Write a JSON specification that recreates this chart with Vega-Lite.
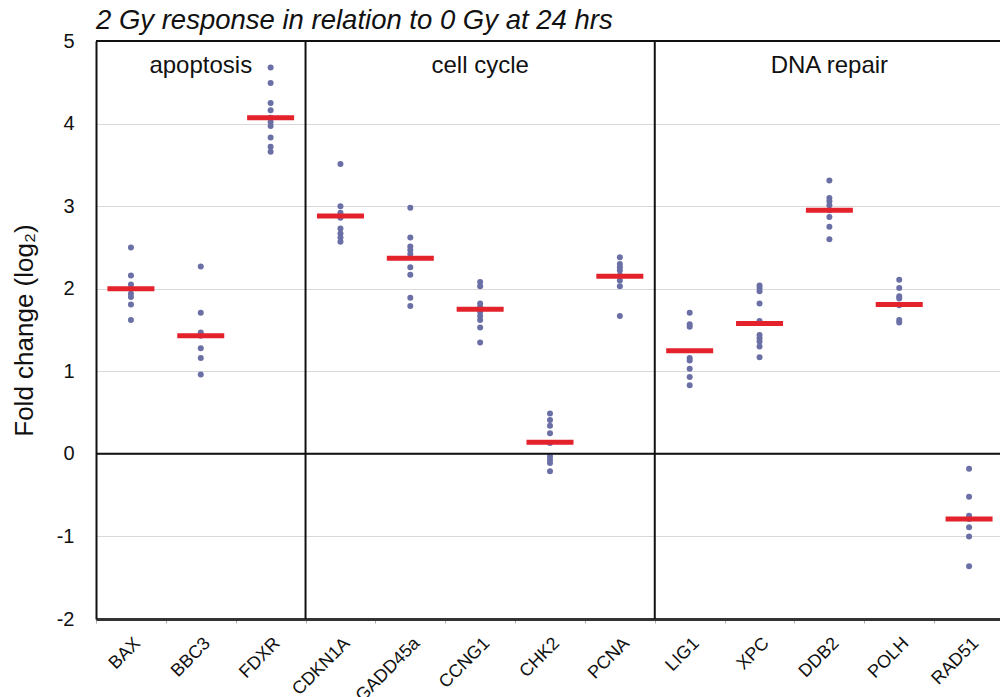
{
  "$schema": "https://vega.github.io/schema/vega-lite/v6.json",
  "autosize": "none",
  "width": 904,
  "height": 578,
  "padding": {"left": 96, "top": 41, "right": 0, "bottom": 78},
  "background": "white",
  "config": {
    "font": "Liberation Sans",
    "view": {"stroke": null}
  },
  "title": {
    "text": "2 Gy response in relation to 0 Gy at 24 hrs",
    "anchor": "start",
    "frame": "group",
    "fontSize": 27.5,
    "fontStyle": "italic",
    "fontWeight": "normal",
    "color": "#111",
    "baseline": "alphabetic",
    "offset": -25
  },
  "datasets": {
    "samples": [
      {"gene": "BAX", "fc": 2.50}, {"gene": "BAX", "fc": 2.16}, {"gene": "BAX", "fc": 2.05}, {"gene": "BAX", "fc": 2.00},
      {"gene": "BAX", "fc": 1.94}, {"gene": "BAX", "fc": 1.90}, {"gene": "BAX", "fc": 1.81}, {"gene": "BAX", "fc": 1.62},
      {"gene": "BBC3", "fc": 2.27}, {"gene": "BBC3", "fc": 1.71}, {"gene": "BBC3", "fc": 1.47}, {"gene": "BBC3", "fc": 1.43},
      {"gene": "BBC3", "fc": 1.28}, {"gene": "BBC3", "fc": 1.16}, {"gene": "BBC3", "fc": 0.96},
      {"gene": "FDXR", "fc": 4.68}, {"gene": "FDXR", "fc": 4.49}, {"gene": "FDXR", "fc": 4.25}, {"gene": "FDXR", "fc": 4.16},
      {"gene": "FDXR", "fc": 4.07}, {"gene": "FDXR", "fc": 4.02}, {"gene": "FDXR", "fc": 3.97}, {"gene": "FDXR", "fc": 3.83},
      {"gene": "FDXR", "fc": 3.72}, {"gene": "FDXR", "fc": 3.66},
      {"gene": "CDKN1A", "fc": 3.51}, {"gene": "CDKN1A", "fc": 3.00}, {"gene": "CDKN1A", "fc": 2.92}, {"gene": "CDKN1A", "fc": 2.86},
      {"gene": "CDKN1A", "fc": 2.73}, {"gene": "CDKN1A", "fc": 2.67}, {"gene": "CDKN1A", "fc": 2.62}, {"gene": "CDKN1A", "fc": 2.57},
      {"gene": "GADD45a", "fc": 2.98}, {"gene": "GADD45a", "fc": 2.62}, {"gene": "GADD45a", "fc": 2.51}, {"gene": "GADD45a", "fc": 2.47},
      {"gene": "GADD45a", "fc": 2.42}, {"gene": "GADD45a", "fc": 2.26}, {"gene": "GADD45a", "fc": 2.17}, {"gene": "GADD45a", "fc": 1.89},
      {"gene": "GADD45a", "fc": 1.79},
      {"gene": "CCNG1", "fc": 2.08}, {"gene": "CCNG1", "fc": 2.03}, {"gene": "CCNG1", "fc": 1.82}, {"gene": "CCNG1", "fc": 1.78},
      {"gene": "CCNG1", "fc": 1.72}, {"gene": "CCNG1", "fc": 1.67}, {"gene": "CCNG1", "fc": 1.62}, {"gene": "CCNG1", "fc": 1.53},
      {"gene": "CCNG1", "fc": 1.35},
      {"gene": "CHK2", "fc": 0.49}, {"gene": "CHK2", "fc": 0.41}, {"gene": "CHK2", "fc": 0.34}, {"gene": "CHK2", "fc": 0.25},
      {"gene": "CHK2", "fc": 0.13}, {"gene": "CHK2", "fc": -0.03}, {"gene": "CHK2", "fc": -0.07}, {"gene": "CHK2", "fc": -0.11},
      {"gene": "CHK2", "fc": -0.21},
      {"gene": "PCNA", "fc": 2.38}, {"gene": "PCNA", "fc": 2.30}, {"gene": "PCNA", "fc": 2.26}, {"gene": "PCNA", "fc": 2.22},
      {"gene": "PCNA", "fc": 2.16}, {"gene": "PCNA", "fc": 2.10}, {"gene": "PCNA", "fc": 2.03}, {"gene": "PCNA", "fc": 1.67},
      {"gene": "LIG1", "fc": 1.71}, {"gene": "LIG1", "fc": 1.57}, {"gene": "LIG1", "fc": 1.54}, {"gene": "LIG1", "fc": 1.16},
      {"gene": "LIG1", "fc": 1.13}, {"gene": "LIG1", "fc": 1.03}, {"gene": "LIG1", "fc": 0.93}, {"gene": "LIG1", "fc": 0.83},
      {"gene": "XPC", "fc": 2.04}, {"gene": "XPC", "fc": 2.01}, {"gene": "XPC", "fc": 1.97}, {"gene": "XPC", "fc": 1.82},
      {"gene": "XPC", "fc": 1.61}, {"gene": "XPC", "fc": 1.44}, {"gene": "XPC", "fc": 1.40}, {"gene": "XPC", "fc": 1.36},
      {"gene": "XPC", "fc": 1.30}, {"gene": "XPC", "fc": 1.17},
      {"gene": "DDB2", "fc": 3.31}, {"gene": "DDB2", "fc": 3.10}, {"gene": "DDB2", "fc": 3.06}, {"gene": "DDB2", "fc": 3.01},
      {"gene": "DDB2", "fc": 2.95}, {"gene": "DDB2", "fc": 2.87}, {"gene": "DDB2", "fc": 2.75}, {"gene": "DDB2", "fc": 2.60},
      {"gene": "POLH", "fc": 2.11}, {"gene": "POLH", "fc": 2.01}, {"gene": "POLH", "fc": 1.91}, {"gene": "POLH", "fc": 1.88},
      {"gene": "POLH", "fc": 1.80}, {"gene": "POLH", "fc": 1.62}, {"gene": "POLH", "fc": 1.59},
      {"gene": "RAD51", "fc": -0.18}, {"gene": "RAD51", "fc": -0.52}, {"gene": "RAD51", "fc": -0.75}, {"gene": "RAD51", "fc": -0.79},
      {"gene": "RAD51", "fc": -0.89}, {"gene": "RAD51", "fc": -1.00}, {"gene": "RAD51", "fc": -1.36}
    ],
    "means": [
      {"gene": "BAX", "fc": 2.00}, {"gene": "BBC3", "fc": 1.43}, {"gene": "FDXR", "fc": 4.07},
      {"gene": "CDKN1A", "fc": 2.88}, {"gene": "GADD45a", "fc": 2.37}, {"gene": "CCNG1", "fc": 1.75},
      {"gene": "CHK2", "fc": 0.14}, {"gene": "PCNA", "fc": 2.15}, {"gene": "LIG1", "fc": 1.25},
      {"gene": "XPC", "fc": 1.58}, {"gene": "DDB2", "fc": 2.95}, {"gene": "POLH", "fc": 1.81},
      {"gene": "RAD51", "fc": -0.79}
    ],
    "groups": [
      {"gene": "BBC3", "label": "apoptosis", "last": "FDXR"},
      {"gene": "CCNG1", "label": "cell cycle", "last": "PCNA"},
      {"gene": "DDB2", "label": "DNA repair", "last": "RAD51"}
    ]
  },
  "layer": [
    {
      "data": {"name": "samples"},
      "mark": {"type": "circle", "size": 36, "opacity": 1, "color": "#6a6fa6"},
      "encoding": {
        "x": {
          "field": "gene",
          "type": "nominal",
          "sort": null,
          "scale": {
            "domain": ["BAX", "BBC3", "FDXR", "CDKN1A", "GADD45a", "CCNG1", "CHK2", "PCNA", "LIG1", "XPC", "DDB2", "POLH", "RAD51"],
            "range": [0, 908],
            "paddingInner": 0,
            "paddingOuter": 0
          },
          "axis": {
            "title": null,
            "labelAngle": -45,
            "labelFontSize": 18,
            "labelColor": "#111",
            "labelPadding": 11,
            "domainColor": "#333",
            "domainWidth": 3,
            "ticks": true,
            "tickBand": "extent",
            "tickColor": "#aaa",
            "tickSize": 4,
            "grid": false
          }
        },
        "y": {
          "field": "fc",
          "type": "quantitative",
          "scale": {"domain": [-2, 5], "nice": false, "zero": false},
          "axis": {
            "values": [-2, -1, 0, 1, 2, 3, 4, 5],
            "labelExpr": "datum.value < 0 ? '-' + abs(datum.value) : '' + datum.value",
            "title": "Fold change (log₂)",
            "titleFontSize": 26,
            "titleFontWeight": "normal",
            "titleColor": "#111",
            "titlePadding": 19,
            "labelFontSize": 20,
            "labelColor": "#111",
            "labelPadding": 22,
            "ticks": false,
            "grid": true,
            "gridColor": "#d9d9d9",
            "gridWidth": 1,
            "domainColor": "#111",
            "domainWidth": 2
          }
        }
      }
    },
    {
      "data": {"values": [{}]},
      "mark": {"type": "rule", "color": "#111", "strokeWidth": 2},
      "encoding": {"y": {"datum": 0}}
    },
    {
      "data": {"values": [{}]},
      "mark": {"type": "rule", "color": "#111", "strokeWidth": 2},
      "encoding": {"y": {"datum": 5}}
    },
    {
      "data": {"name": "groups"},
      "transform": [{"filter": "datum.last !== 'RAD51'"}],
      "mark": {"type": "rule", "color": "#111", "strokeWidth": 2},
      "encoding": {
        "x": {"field": "last", "type": "nominal", "bandPosition": 1}
      }
    },
    {
      "data": {"name": "means"},
      "mark": {"type": "tick", "color": "#e3222b", "opacity": 1, "thickness": 5, "size": 47, "orient": "horizontal"},
      "encoding": {
        "x": {"field": "gene", "type": "nominal"},
        "y": {"field": "fc", "type": "quantitative"}
      }
    },
    {
      "data": {"name": "groups"},
      "mark": {"type": "text", "fontSize": 24, "color": "#111", "baseline": "middle", "align": "center"},
      "encoding": {
        "x": {"field": "gene", "type": "nominal"},
        "y": {"datum": 4.7},
        "text": {"field": "label"}
      }
    }
  ]
}
